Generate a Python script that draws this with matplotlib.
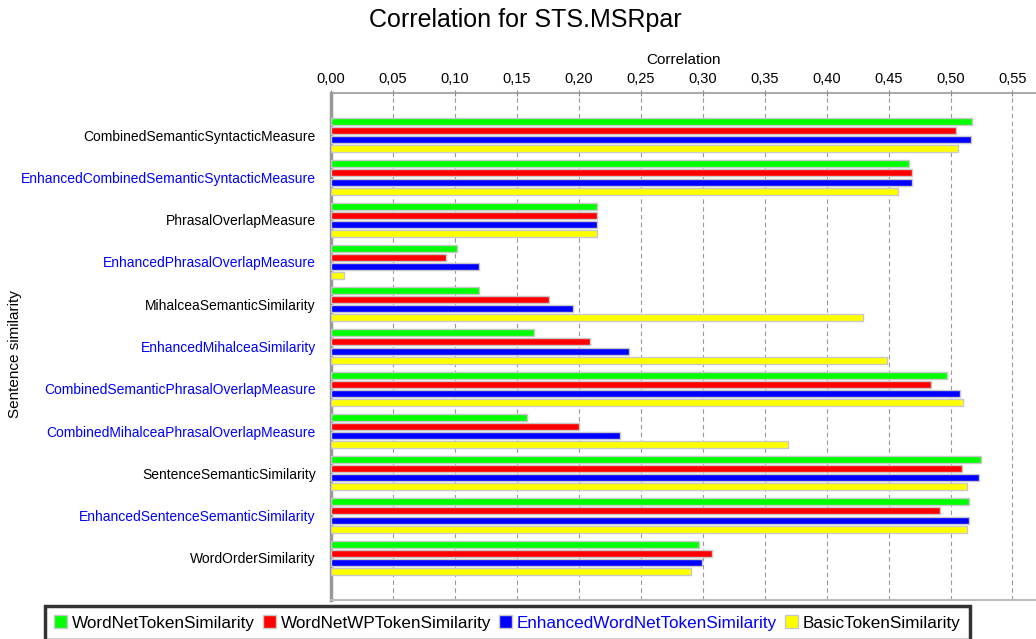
import matplotlib
matplotlib.use("Agg")
import matplotlib.pyplot as plt
import numpy as np
from matplotlib.ticker import FuncFormatter, MultipleLocator
from matplotlib.patches import Patch

plt.rcParams['font.family'] = ['Liberation Sans', 'DejaVu Sans']

categories = [
    "CombinedSemanticSyntacticMeasure",
    "EnhancedCombinedSemanticSyntacticMeasure",
    "PhrasalOverlapMeasure",
    "EnhancedPhrasalOverlapMeasure",
    "MihalceaSemanticSimilarity",
    "EnhancedMihalceaSimilarity",
    "CombinedSemanticPhrasalOverlapMeasure",
    "CombinedMihalceaPhrasalOverlapMeasure",
    "SentenceSemanticSimilarity",
    "EnhancedSentenceSemanticSimilarity",
    "WordOrderSimilarity",
]
label_blue = [False, True, False, True, False, True, True, True, False, True, False]

series_names = ["WordNetTokenSimilarity", "WordNetWPTokenSimilarity",
                "EnhancedWordNetTokenSimilarity", "BasicTokenSimilarity"]
series_colors = ["#00ff00", "#ff0000", "#0000ff", "#ffff00"]
legend_text_colors = ["black", "black", "#0000ff", "black"]

wordnet = [0.5177, 0.4669, 0.2147, 0.1017, 0.1191, 0.1642, 0.4972, 0.1580, 0.5246, 0.5152, 0.2969]
wordnet_wp = [0.5044, 0.4687, 0.2147, 0.0931, 0.1757, 0.2093, 0.4842, 0.1999, 0.5094, 0.4914, 0.3074]
enhanced_wordnet = [0.5167, 0.4690, 0.2147, 0.1191, 0.1952, 0.2403, 0.5080, 0.2331, 0.5232, 0.5149, 0.2998]
basic = [0.5062, 0.4579, 0.2147, 0.0108, 0.4297, 0.4485, 0.5098, 0.3687, 0.5131, 0.5131, 0.2908]
series = [wordnet, wordnet_wp, enhanced_wordnet, basic]

W, H = 1036, 639
fig = plt.figure(figsize=(W / 100, H / 100), dpi=100)
top_px, bot_px, left_px = 93, 600, 331
ax = fig.add_axes([left_px / W, 1 - bot_px / H, (W - left_px) / W, (bot_px - top_px) / H])

y = np.arange(len(categories))
offsets = [-0.32, -0.107, 0.107, 0.32]
for vals, col, off, name in zip(series, series_colors, offsets, series_names):
    ax.barh(y + off, vals, height=0.165, color=col, edgecolor="#c8c8c8",
            linewidth=1.0, label=name, zorder=3)

ax.set_xlim(0, 0.569)
ax.set_ylim(11, -1)
ax.xaxis.set_major_locator(MultipleLocator(0.05))
ax.xaxis.set_major_formatter(FuncFormatter(lambda v, p: f"{v:.2f}".replace(".", ",")))
ax.xaxis.tick_top()
ax.xaxis.set_label_position("top")
ax.tick_params(axis="x", labelsize=10.5, length=4, direction="inout", color="#888888", pad=3)
ax.set_xlabel("Correlation", fontsize=11, labelpad=6)

ax.set_yticks(y)
ax.set_yticklabels(categories, fontsize=10)
for t, b in zip(ax.get_yticklabels(), label_blue):
    t.set_color("#0000ff" if b else "black")
ax.tick_params(axis="y", length=0, pad=11)
fig.text(15 / W, 1 - 354 / H, "Sentence similarity", rotation=90,
         ha="center", va="center", fontsize=11)

ax.grid(axis="x", linestyle=(0, (4, 3)), color="#999999", linewidth=0.8, zorder=0)
ax.spines["right"].set_visible(False)
ax.spines["left"].set_color("#999999")
ax.spines["left"].set_linewidth(2.5)
ax.spines["top"].set_color("#999999")
ax.spines["top"].set_linewidth(1.2)
ax.spines["bottom"].set_color("#bbbbbb")
ax.spines["bottom"].set_linewidth(1.5)

fig.text(0.5 + 7 / W, 1 - 20 / H, "Correlation for STS.MSRpar", ha="center", va="center", fontsize=18)

handles = [Patch(facecolor=c, edgecolor="#c8c8c8") for c in series_colors]
leg = fig.legend(handles, series_names, loc="upper left",
                 bbox_to_anchor=(45 / W, 1 - 606 / H), ncol=4, fontsize=12.3,
                 frameon=True, fancybox=False, handlelength=0.75, handleheight=0.75,
                 handletextpad=0.3, columnspacing=0.45, borderpad=0.55, borderaxespad=0)
leg.get_frame().set_edgecolor("black")
leg.get_frame().set_linewidth(2.5)
for t, c in zip(leg.get_texts(), legend_text_colors):
    t.set_color(c)

fig.savefig("out.png", dpi=100)
